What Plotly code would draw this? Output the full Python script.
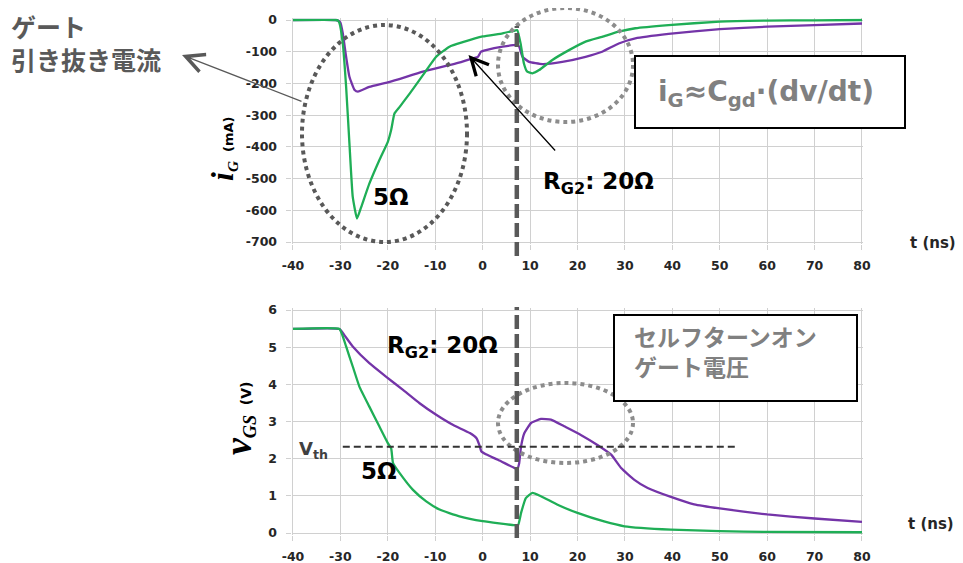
import plotly.graph_objects as go

# page offset of the plot div inside the browser page (default body margin)
OFF = 8
W, H = 963 - OFF, 563 - OFF

# ---------------- data ----------------
# gate current iG (mA), RG = 5 ohm (green)
t_ig_5 = [-40, -31, -30.5, -30.2, -29.5, -28.8, -28.1, -27.4, -26.5, -25.6, -23.9, -21.8, -20,
          -19.3, -18.6, -17.5, -15.4, -12.6, -9.8, -7, -4.2, 0, 4.2, 6.6, 7.3, 8, 8.7, 9.4,
          10.5, 11.9, 14.7, 18.2, 21.7, 25.2, 28.7, 32.2, 39.2, 50, 60, 70, 80]
ig_5 = [0, 0, -2, -10, -74, -210, -389, -558, -626, -589, -516, -442, -384,
        -347, -295, -274, -232, -174, -116, -84, -70, -52, -42, -34, -32, -74, -137, -163,
        -168, -158, -126, -95, -68, -53, -37, -26, -16, -5, -2, -1, 0]

# gate current iG (mA), RG2 = 20 ohm (purple)
t_ig_20 = [-40, -31, -30.5, -30, -29.5, -28.8, -28.1, -27, -26.3, -23.9, -19.6, -12.6, -5.6,
           -2.1, -1, -0.35, 0.7, 4.2, 7.3, 7.7, 8.4, 9.8, 12.6, 16.8, 21.7, 25.2, 28.7, 32.2,
           39.2, 50, 60, 70, 80]
ig_20 = [0, 0, -2, -8, -42, -116, -179, -221, -226, -211, -195, -163, -137,
         -121, -116, -100, -95, -84, -79, -84, -116, -132, -139, -132, -116, -100, -74, -58,
         -44, -29, -21, -16, -11]

# gate-source voltage vGS (V), RG = 5 ohm (green)
t_vg_5 = [-40, -30.2, -29.5, -28.8, -27.4, -26, -23.9, -21.8, -20, -19.3, -18.9, -17.5, -14.7,
          -11.9, -9.1, -4.9, 0, 6.7, 7.5, 8.1, 9.1, 10.5, 12.3, 15.8, 20, 25.6, 29.9, 39.7,
          50, 60, 80]
vg_5 = [5.49, 5.49, 5.29, 5.02, 4.48, 3.94, 3.40, 2.87, 2.42, 2.28, 1.88, 1.61, 1.16,
        0.85, 0.63, 0.45, 0.32, 0.21, 0.22, 0.54, 0.94, 1.08, 0.99, 0.76, 0.54, 0.31, 0.18, 0.09,
        0.05, 0.03, 0.02]

# gate-source voltage vGS (V), RG2 = 20 ohm (purple)
t_vg_20 = [-40, -30.2, -29.2, -27.4, -23.9, -20.4, -16.8, -13.3, -9.8, -6.3, -2.7, -1.3, -0.6,
           -0.3, 0.8, 3.2, 6.7, 7.3, 7.7, 8.1, 8.8, 10.2, 12.3, 14.4, 17.2, 20.7, 24.2, 27.1,
           29.2, 32, 34.8, 39.7, 44.6, 50, 60, 70, 80]
vg_20 = [5.49, 5.49, 5.33, 5.02, 4.57, 4.21, 3.85, 3.49, 3.18, 2.91, 2.69, 2.55, 2.33,
         2.20, 2.11, 1.97, 1.75, 1.72, 1.88, 2.33, 2.69, 2.96, 3.07, 3.05, 2.87, 2.64, 2.37, 2.11,
         1.75, 1.43, 1.21, 0.97, 0.77, 0.66, 0.50, 0.39, 0.30]

switch_t = 7.2          # time of the RG2 switch (dashed vertical line)
vth = 2.32              # threshold voltage
vth_t = [-29.5, 53.7]   # extent of the Vth line

x_ticks = list(range(-40, 81, 10))
x_ticktext = [str(v) for v in x_ticks]
ig_ticks = list(range(-700, 1, 100))
ig_ticktext = [str(v) for v in ig_ticks]
vg_ticks = list(range(0, 7))
vg_ticktext = [str(v) for v in vg_ticks]

# ---------------- styling / layout helpers ----------------
GREEN = "#1fae56"
PURPLE = "#7434a8"
GRID = "#d0d0d0"
TXT = "#262626"
DARK = "#595959"
LIGHT = "#8c8c8c"
SANS = "DejaVu Sans"
JP = "Noto Sans CJK JP"


def px(x):
    return (x - OFF) / W


def py(y):
    return 1 - (y - OFF) / H


X0, X1 = 293, 862
xu = (X1 - X0) / 120.0
xr = [-40.3, 80.3]
xdom = [px(X0 - 0.3 * xu), px(X1 + 0.3 * xu)]

u1 = 222 / 700.0
yr1 = [-706, 5]
ydom1 = [py(242 + 6 * u1), py(20 - 5 * u1)]

u2 = 223 / 6.0
yr2 = [-0.06, 6.05]
ydom2 = [py(533 + 0.06 * u2), py(310 - 0.05 * u2)]

fig = go.Figure()
line_kw = dict(shape="spline", smoothing=0.4, width=2.3)
fig.add_trace(go.Scatter(x=t_ig_20, y=ig_20, mode="lines", line=dict(color=PURPLE, **line_kw),
                         xaxis="x", yaxis="y", showlegend=False, hoverinfo="skip"))
fig.add_trace(go.Scatter(x=t_ig_5, y=ig_5, mode="lines", line=dict(color=GREEN, **line_kw),
                         xaxis="x", yaxis="y", showlegend=False, hoverinfo="skip"))
fig.add_trace(go.Scatter(x=t_vg_20, y=vg_20, mode="lines", line=dict(color=PURPLE, **line_kw),
                         xaxis="x2", yaxis="y2", showlegend=False, hoverinfo="skip"))
fig.add_trace(go.Scatter(x=t_vg_5, y=vg_5, mode="lines", line=dict(color=GREEN, **line_kw),
                         xaxis="x2", yaxis="y2", showlegend=False, hoverinfo="skip"))

tickfont = dict(family=SANS, size=12.5, color=TXT, weight="bold")
common = dict(showgrid=True, gridcolor=GRID, gridwidth=1, ticks="outside", ticklen=5,
              tickcolor=GRID, zeroline=False, showline=False, tickfont=tickfont,
              automargin=False, fixedrange=True, tickmode="array")

fig.update_layout(
    width=W, height=H,
    margin=dict(l=0, r=0, t=0, b=0),
    paper_bgcolor="white", plot_bgcolor="white",
    xaxis=dict(domain=xdom, range=xr, tickvals=x_ticks, ticktext=x_ticktext, anchor="y",
               ticklabelstandoff=5, **common),
    yaxis=dict(domain=ydom1, range=yr1, tickvals=ig_ticks, ticktext=ig_ticktext, anchor="x",
               ticklabelstandoff=6, **common),
    xaxis2=dict(domain=xdom, range=xr, tickvals=x_ticks, ticktext=x_ticktext, anchor="y2",
                ticklabelstandoff=5, **common),
    yaxis2=dict(domain=ydom2, range=yr2, tickvals=vg_ticks, ticktext=vg_ticktext, anchor="x2",
                ticklabelstandoff=6, **common),
)

shapes = []
# dotted ellipses
shapes.append(dict(type="circle", xref="paper", yref="paper", x0=px(302), x1=px(467),
                   y0=py(242), y1=py(25), line=dict(color=DARK, width=4, dash="dot"), layer="above"))
shapes.append(dict(type="circle", xref="paper", yref="paper", x0=px(498), x1=px(633),
                   y0=py(122), y1=py(8), line=dict(color=LIGHT, width=4, dash="dot"), layer="above"))
shapes.append(dict(type="circle", xref="paper", yref="paper", x0=px(498), x1=px(633),
                   y0=py(463), y1=py(383), line=dict(color=LIGHT, width=4, dash="dot"), layer="above"))
# dashed vertical switch lines
shapes.append(dict(type="line", xref="x", yref="paper", x0=switch_t, x1=switch_t,
                   y0=py(256), y1=py(26), line=dict(color=DARK, width=4.5, dash="14px,5px"), layer="above"))
shapes.append(dict(type="line", xref="x2", yref="paper", x0=switch_t, x1=switch_t,
                   y0=py(538), y1=py(307), line=dict(color=DARK, width=4.5, dash="14px,5px"), layer="above"))
# Vth line
shapes.append(dict(type="line", xref="x2", yref="y2", x0=vth_t[0], x1=vth_t[1], y0=vth, y1=vth,
                   line=dict(color="#333333", width=2, dash="7px,4px"), layer="above"))
# boxes
shapes.append(dict(type="rect", xref="paper", yref="paper", x0=px(635), x1=px(905),
                   y0=py(128), y1=py(56), line=dict(color="black", width=2), fillcolor="white", layer="above"))
shapes.append(dict(type="rect", xref="paper", yref="paper", x0=px(614), x1=px(857),
                   y0=py(401), y1=py(315), line=dict(color="black", width=2), fillcolor="white", layer="above"))
fig.update_layout(shapes=shapes)

ann = []


def text(x, y, t, size, color=TXT, family=SANS, xanchor="center", yanchor="middle", align="center", angle=0):
    ann.append(dict(xref="paper", yref="paper", x=px(x), y=py(y), text=t, showarrow=False,
                    xanchor=xanchor, yanchor=yanchor, align=align, textangle=angle,
                    font=dict(family=family, size=size, color=color, weight="bold")))


text(9, 42, "ゲート<br>引き抜き電流", 25, color=DARK, family=JP, xanchor="left", align="left")
text(766, 93, "i<sub>G</sub>≈C<sub>gd</sub>·(dv/dt)", 28, color="#808080")
text(632, 351, "セルフターンオン<br>ゲート電圧", 23, color="#808080", family=JP, xanchor="left", align="left")
text(598, 183, "R<sub>G2</sub>: 20Ω", 23, color="black")
text(391, 197, "5Ω", 23, color="black")
text(442, 347, "R<sub>G2</sub>: 20Ω", 23, color="black")
text(379, 471, "5Ω", 23, color="black")
text(933, 243, "t (ns)", 15, color=TXT)
text(931, 524, "t (ns)", 15, color=TXT)
text(297, 450, "V<sub>th</sub>", 18, color="#404040", xanchor="left")

# axis titles (rotated)
ann.append(dict(xref="paper", yref="paper", x=px(222), y=py(149), showarrow=False, textangle=-90,
                xanchor="center", yanchor="middle",
                text='<span style="font-family:Liberation Serif;font-size:32px"><b><i>i</i></b></span>'
                     '<span style="font-family:Liberation Serif;font-size:22px"><b><i><sub>G</sub></i></b></span>'
                     '<span style="font-size:13px"><b>  (mA)</b></span>',
                font=dict(family=SANS, size=13, color="black")))
ann.append(dict(xref="paper", yref="paper", x=px(238), y=py(418), showarrow=False, textangle=-90,
                xanchor="center", yanchor="middle",
                text='<span style="font-family:Liberation Serif;font-size:38px"><b><i>v</i></b></span>'
                     '<span style="font-family:Liberation Serif;font-size:26px"><b><i><sub>GS</sub></i></b></span>'
                     '<span style="font-size:14px"><b>  (V)</b></span>',
                font=dict(family=SANS, size=14, color="black")))

# arrows
ann.append(dict(xref="paper", yref="paper", x=px(182), y=py(55), ax=121, ay=47, text="",
                showarrow=True, arrowhead=5, arrowsize=3, arrowwidth=1.2, arrowcolor=DARK))
ann.append(dict(xref="paper", yref="paper", x=px(468.5), y=py(55), ax=88, ay=97, text="",
                showarrow=True, arrowhead=5, arrowsize=2.6, arrowwidth=1.3, arrowcolor="black"))

fig.update_layout(annotations=ann)

fig.write_html("out.html")
